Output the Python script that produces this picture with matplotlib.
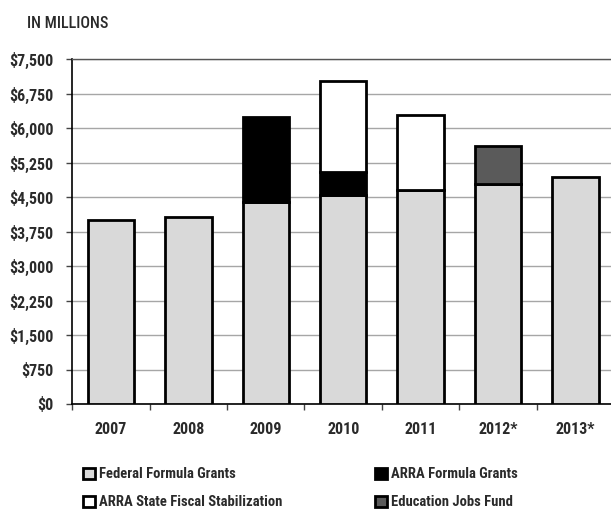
import matplotlib
matplotlib.use("Agg")
import matplotlib.pyplot as plt
import numpy as np
from matplotlib.patches import Patch
from matplotlib.ticker import FuncFormatter, FixedLocator

plt.rcParams['font.family'] = ['Roboto Condensed', 'Open Sans Condensed', 'Roboto', 'DejaVu Sans']
plt.rcParams['font.weight'] = 'bold'

years = ["2007", "2008", "2009", "2010", "2011", "2012*", "2013*"]
federal = [4000, 4060, 4390, 4545, 4655, 4775, 4930]
arra_formula = [0, 0, 1855, 505, 0, 0, 0]
stabilization = [0, 0, 0, 1970, 1630, 0, 0]
jobs_fund = [0, 0, 0, 0, 0, 835, 0]
series_names = ["Federal Formula Grants", "ARRA Formula Grants",
                "ARRA State Fiscal Stabilization", "Education Jobs Fund"]
colors = ["#d9d9d9", "#000000", "#ffffff", "#5a5a5a"]
yticks = [0, 750, 1500, 2250, 3000, 3750, 4500, 5250, 6000, 6750, 7500]

W, H = 611, 512
fig = plt.figure(figsize=(W/100, H/100), dpi=100)
ax = fig.add_axes([72.3/W, 1-404/H, 1-72.3/W, (404-59)/H])

x = np.arange(len(years))
w = 0.6
series = [federal, arra_formula, stabilization, jobs_fund]
bottom = np.zeros(len(years))
for vals, c in zip(series, colors):
    vals = np.array(vals, dtype=float)
    mask = vals > 0
    ax.bar(x[mask], vals[mask], w, bottom=bottom[mask], color=c,
           edgecolor="black", linewidth=2.0, zorder=3)
    bottom += vals

ax.set_ylim(0, 7500)
ax.set_xlim(-0.5, 6.46)
ax.set_yticks(yticks)
ax.yaxis.set_major_formatter(FuncFormatter(lambda v, p: "${:,.0f}".format(v)))
ax.yaxis.grid(True, color="#a6a6a6", linewidth=1.0, zorder=0)
ax.set_axisbelow(True)

ax.xaxis.set_major_locator(FixedLocator(np.arange(-0.5, 6.0, 1.0)))
ax.xaxis.set_minor_locator(FixedLocator(x))
ax.set_xticklabels([])
ax.set_xticklabels(years, minor=True)
ax.tick_params(axis="x", which="major", length=4.5, width=1, color="#444444")
ax.tick_params(axis="x", which="minor", length=0, pad=13, labelsize=11.5, colors="#2a2a2a")
ax.tick_params(axis="y", length=4.5, width=1, labelsize=11.5, pad=9, colors="#2a2a2a")
ax.tick_params(axis="y", color="#444444")

ax.spines["right"].set_visible(False)
ax.spines["top"].set_color("#555555")
ax.spines["top"].set_linewidth(1.0)
ax.spines["left"].set_linewidth(1.2)
ax.spines["bottom"].set_linewidth(1.2)

fig.text(27/W, 1-23/H, "IN MILLIONS", fontsize=11.5, va="center", ha="left",
         color="#2a2a2a", fontweight="medium")

h_fed = Patch(facecolor=colors[0], edgecolor="black", linewidth=2)
h_arra = Patch(facecolor=colors[1], edgecolor="black", linewidth=2)
h_stab = Patch(facecolor=colors[2], edgecolor="black", linewidth=2)
h_jobs = Patch(facecolor=colors[3], edgecolor="black", linewidth=2)
common = dict(loc="center left", frameon=False, fontsize=10.5,
              handlelength=0.8, handleheight=0.8, handletextpad=0.3,
              labelspacing=0.95, borderaxespad=0, borderpad=0,
              labelcolor="#2a2a2a")
fig.legend([h_fed, h_stab], [series_names[0], series_names[2]],
           bbox_to_anchor=(83/W, 1-488.3/H), **common)
fig.legend([h_arra, h_jobs], [series_names[1], series_names[3]],
           bbox_to_anchor=(375/W, 1-488.3/H), **common)

fig.savefig("out.png", dpi=100)
